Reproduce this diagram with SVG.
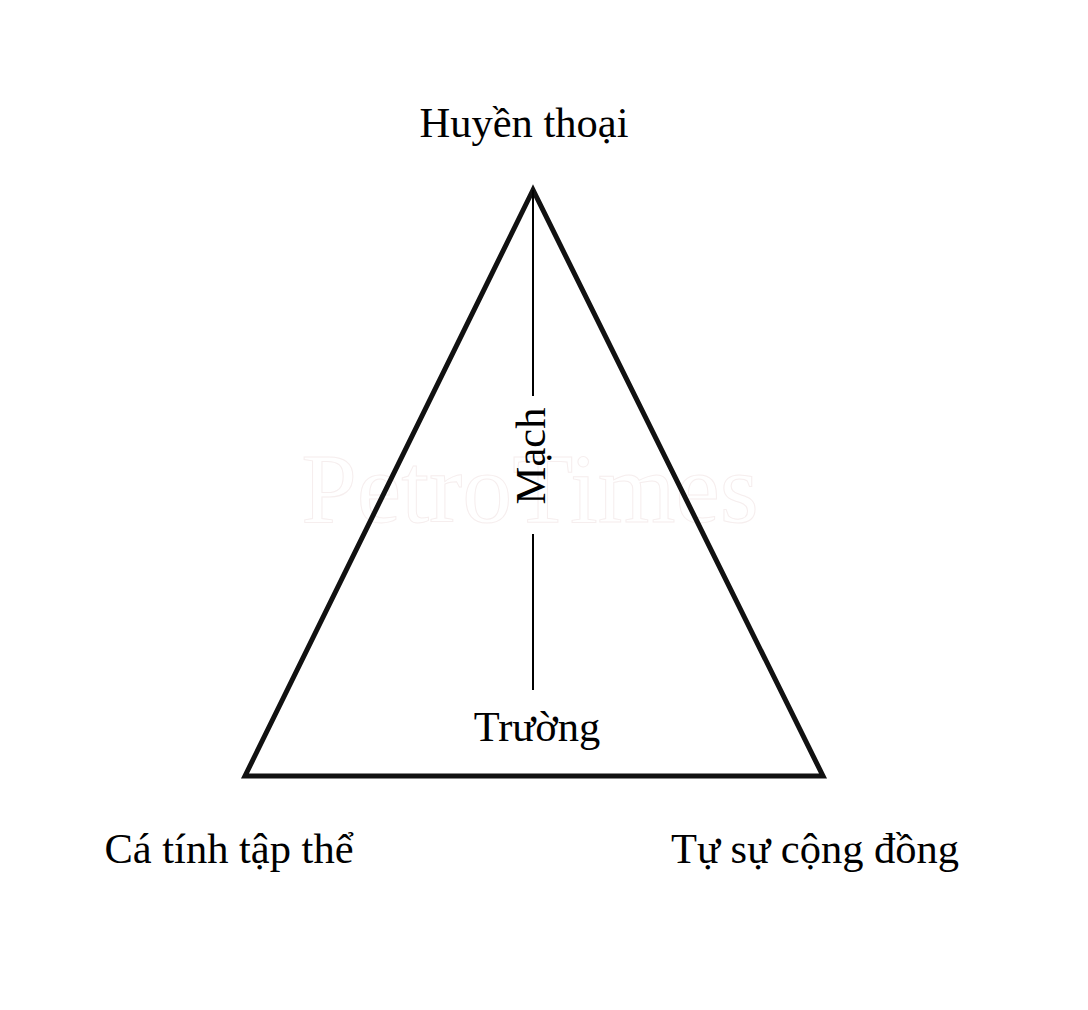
<svg xmlns="http://www.w3.org/2000/svg" width="1088" height="1010" viewBox="0 0 1088 1010">
<style>
.lbl{font-family:"Liberation Serif","Times New Roman",serif;font-size:42.5px;fill:#000}
.wm{font-family:"Liberation Serif","Times New Roman",serif;font-size:100px;fill:none;stroke:#f6eeee;stroke-width:1}
</style>
<rect width="1088" height="1010" fill="#fff"/>
<text class="wm" x="530" y="522" text-anchor="middle">PetroTimes</text>
<g id="connectors">
<polygon points="533,190 245,776 823,776" fill="none" stroke="#111" stroke-width="5" stroke-linejoin="miter" stroke-miterlimit="10"/>
<line x1="533" y1="190" x2="533" y2="396" stroke="#000" stroke-width="2"/>
<line x1="533" y1="534" x2="533" y2="690" stroke="#000" stroke-width="2"/>
</g>
<g id="huyen-thoai"><text class="lbl" x="524" y="137" text-anchor="middle">Huyền thoại</text></g>
<g id="mach"><text class="lbl" transform="translate(545,456) rotate(-90)" text-anchor="middle">Mạch</text></g>
<g id="truong"><text class="lbl" x="537" y="741" text-anchor="middle">Trường</text></g>
<g id="ca-tinh"><text class="lbl" x="229" y="863" text-anchor="middle">Cá tính tập thể</text></g>
<g id="tu-su"><text class="lbl" x="815" y="863" text-anchor="middle">Tự sự cộng đồng</text></g>
</svg>
